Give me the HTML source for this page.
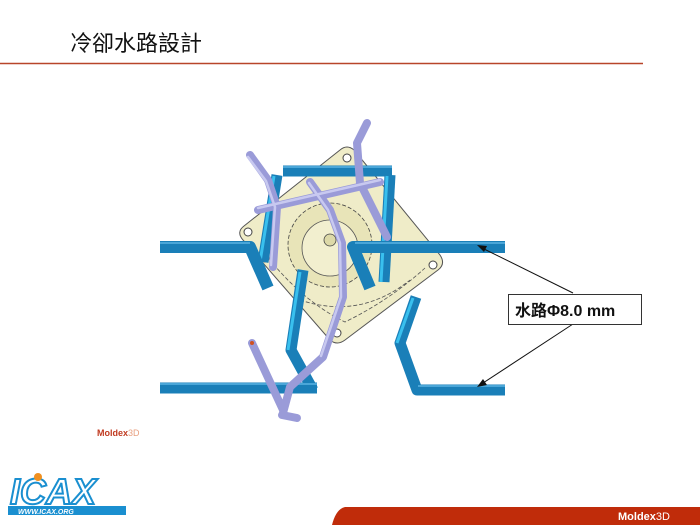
<!DOCTYPE html>
<html><head><meta charset="utf-8"><style>
body{margin:0;width:700px;height:525px;background:#fff;overflow:hidden;position:relative;font-family:"Liberation Sans","Noto Sans CJK TC",sans-serif}
.t{position:absolute;left:70px;top:26px;font-size:22px;color:#111;font-family:"Noto Sans CJK TC",sans-serif}
</style></head><body>
<div class="t">冷卻水路設計</div>
<svg width="700" height="525" style="position:absolute;left:0;top:0">
<line x1="0" y1="63.5" x2="643" y2="63.5" stroke="#b8452a" stroke-width="1.5"/>
<!-- fan body -->
<path d="M340,150 Q347,144 354,150 L440,255 Q446,264 438,270 L345,340 Q337,346 330,340 L243,240 Q236,232 244,226 Z" fill="#efecc8" stroke="#555" stroke-width="1"/>
<path d="M262,250 Q300,300 345,322 Q390,300 425,268" fill="none" stroke="#555" stroke-width="0.8" stroke-dasharray="4,2"/>
<circle cx="330" cy="245" r="42" fill="#e8e4b8" stroke="#444" stroke-width="0.8" stroke-dasharray="4,2"/>
<circle cx="330" cy="248" r="28" fill="#f2efcf" stroke="#555" stroke-width="0.8"/>
<circle cx="330" cy="240" r="6" fill="#ddd9a8" stroke="#444" stroke-width="0.8"/>
<circle cx="347" cy="158" r="4" fill="#fff" stroke="#444"/>
<circle cx="248" cy="232" r="4" fill="#fff" stroke="#444"/>
<circle cx="433" cy="265" r="4" fill="#fff" stroke="#444"/>
<circle cx="337" cy="333" r="4" fill="#fff" stroke="#444"/>
<circle cx="265" cy="258" r="4" fill="#fff" stroke="#444"/>
<path d="M300,300 Q360,320 410,280" fill="none" stroke="#555" stroke-width="0.8" stroke-dasharray="4,2"/>
<!-- blue pipes back -->
<g fill="none" stroke-linejoin="round" stroke-linecap="butt">
<g stroke="#1a7fb8" stroke-width="11">
<polyline points="277,175 263,262"/><polyline points="390,175 384,282"/>
<polyline points="303,270 291,350 313,390"/><polyline points="416,297 400,343 417,390 505,390"/>
<polyline points="283,171 392,171"/>
<polyline points="160,388 317,388"/>
</g>
<g stroke="#39c0ee" stroke-width="3">
<polyline points="274,176 260,262"/><polyline points="387,176 381,282"/>
<polyline points="300,272 288,350"/><polyline points="413,298 397,343"/>
</g>
<g stroke="#4aa6d8" stroke-width="2"><polyline points="283,167 392,167"/><polyline points="160,384 317,384"/><polyline points="418,386 505,386"/></g>
</g>
<!-- purple pipes -->
<g fill="none" stroke-linejoin="round" stroke-linecap="round">
<g stroke="#9a9bd8" stroke-width="8">
<polyline points="250,155 268,180 277,207 273,267"/>
<polyline points="258,210 380,182"/>
<polyline points="367,123 357,143 360,183 387,237"/>
<polyline points="252,343 283,410"/>
<polyline points="310,182 330,210 342,243 343,297 323,357 290,387 283,413"/>
<polyline points="282,415 297,418"/>
</g>
<g stroke="#c8c9f0" stroke-width="2.5">
<polyline points="248,157 266,181 275,207 271,265"/>
<polyline points="258,208 380,180"/>
<polyline points="309,183 328,210 340,243 341,297 321,356"/>
</g>
</g>
<circle cx="252" cy="343" r="2" fill="#d05020"/>
<!-- blue front pipes -->
<g fill="none" stroke-linejoin="round">
<polyline points="160,247 250,247 268,288" stroke="#1a7fb8" stroke-width="12"/>
<polyline points="505,247 353,247 370,288" stroke="#1a7fb8" stroke-width="12"/>
<polyline points="160,243 250,243" stroke="#4aa6d8" stroke-width="2"/>
<polyline points="505,243 355,243" stroke="#4aa6d8" stroke-width="2"/>
</g>
<!-- label -->
<line x1="573" y1="293" x2="480" y2="247" stroke="#111" stroke-width="1"/>
<polygon points="477,245 487,246 484,252" fill="#111"/>
<line x1="573" y1="324" x2="480" y2="385" stroke="#111" stroke-width="1"/>
<polygon points="477,387 483,379 487,385" fill="#111"/>
<rect x="508.5" y="294.5" width="133" height="30" fill="#fff" stroke="#333"/>
<text x="515" y="316" font-size="16" font-weight="bold" fill="#111" font-family="Liberation Sans,Noto Sans CJK TC,sans-serif">水路Φ8.0 mm</text>
<text x="97" y="436" font-size="9" font-weight="bold" fill="#c03a20" font-family="Liberation Sans,sans-serif">Moldex<tspan fill="#e8a080" font-weight="normal">3D</tspan></text>
<!-- bottom band -->
<path d="M345,507 L700,507 L700,525 L332,525 Q336,509 345,507 Z" fill="#c02c0a"/>
<text x="618" y="520" font-size="11" font-weight="bold" fill="#fff" font-family="Liberation Sans,sans-serif">Moldex<tspan font-weight="normal">3D</tspan></text>
<!-- ICAX logo -->
<text x="10" y="504" font-size="36" font-style="italic" font-weight="bold" fill="#fff" stroke="#1a8fd0" stroke-width="2" font-family="Liberation Sans,sans-serif">ICAX</text>
<circle cx="38" cy="477" r="4" fill="#f09020"/>
<rect x="8" y="506" width="118" height="9" fill="#1a8fd0"/>
<text x="18" y="514" font-size="7" font-weight="bold" font-style="italic" fill="#fff" font-family="Liberation Sans,sans-serif">WWW.ICAX.ORG</text>
</svg>
</body></html>
